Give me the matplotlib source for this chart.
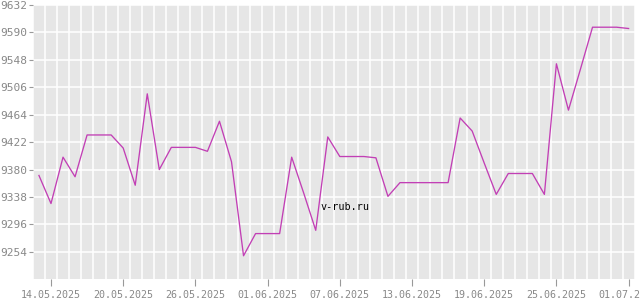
import datetime
import numpy as np
import pandas as pd
import matplotlib
matplotlib.use('Agg')
import matplotlib.pyplot as plt
import matplotlib.dates as mdates

start_day = '2025-05-13'
end_day = '2025-07-01'
rates = [9371, 9328, 9399, 9369, 9433, 9433, 9433, 9413, 9356, 9496,
         9380, 9414, 9414, 9414, 9408, 9454, 9392, 9248, 9282, 9282,
         9282, 9399, 9344, 9287, 9430, 9400, 9400, 9400, 9398, 9339,
         9360, 9360, 9360, 9360, 9360, 9459, 9439, 9390, 9342, 9374,
         9374, 9374, 9342, 9542, 9471, 9534, 9598, 9598, 9598, 9596]
yticks = [9254, 9296, 9338, 9380, 9422, 9464, 9506, 9548, 9590, 9632]
tick_days = ['2025-05-14', '2025-05-20', '2025-05-26', '2025-06-01',
             '2025-06-07', '2025-06-13', '2025-06-19', '2025-06-25', '2025-07-01']

dates = pd.date_range(start_day, end_day, freq='D')

fig = plt.figure(figsize=(6.4, 3.0), dpi=100)
ax = fig.add_axes([33.3 / 640, 20.7 / 300, 601.7 / 640, 274.3 / 300])
ax.set_facecolor('#e6e6e6')

ax.plot(dates, rates, color='#c23fb5', lw=0.95, zorder=3)

x0 = mdates.date2num(dates[0])
ax.set_xlim(x0 - 0.39, x0 + 49.5)
ax.set_ylim(9212, 9632)

# vertical grid every day, slightly off the tick dates
ax.set_xticks([x0 + i + 0.53 for i in range(-1, 50)], minor=True)
ax.set_xticks(mdates.date2num(pd.to_datetime(tick_days)))
ax.set_xticklabels([pd.Timestamp(d).strftime('%d.%m.%Y') for d in tick_days])
ax.set_yticks(yticks)
ax.set_yticklabels([str(v) for v in yticks])

ax.grid(which='minor', axis='x', color='white', lw=1.1)
ax.grid(which='major', axis='y', color='white', lw=1.1)
ax.set_axisbelow(True)
for s in ax.spines.values():
    s.set_visible(False)

ax.tick_params(axis='x', which='major', length=5, width=0.8, color='#999999',
               labelcolor='#888888', labelsize=7.2, pad=3)
ax.tick_params(axis='y', which='major', length=3, width=0.8, color='#999999',
               labelcolor='#888888', labelsize=8, pad=1)
ax.tick_params(which='minor', length=0)
for lab in ax.get_xticklabels() + ax.get_yticklabels():
    lab.set_family('DejaVu Sans Mono')

ax.text(0.4765, 0.264, 'v-rub.ru', transform=ax.transAxes, ha='left', va='center',
        fontsize=7.3, family='DejaVu Sans Mono', color='black', zorder=4)

fig.savefig('out.png', dpi=100)
